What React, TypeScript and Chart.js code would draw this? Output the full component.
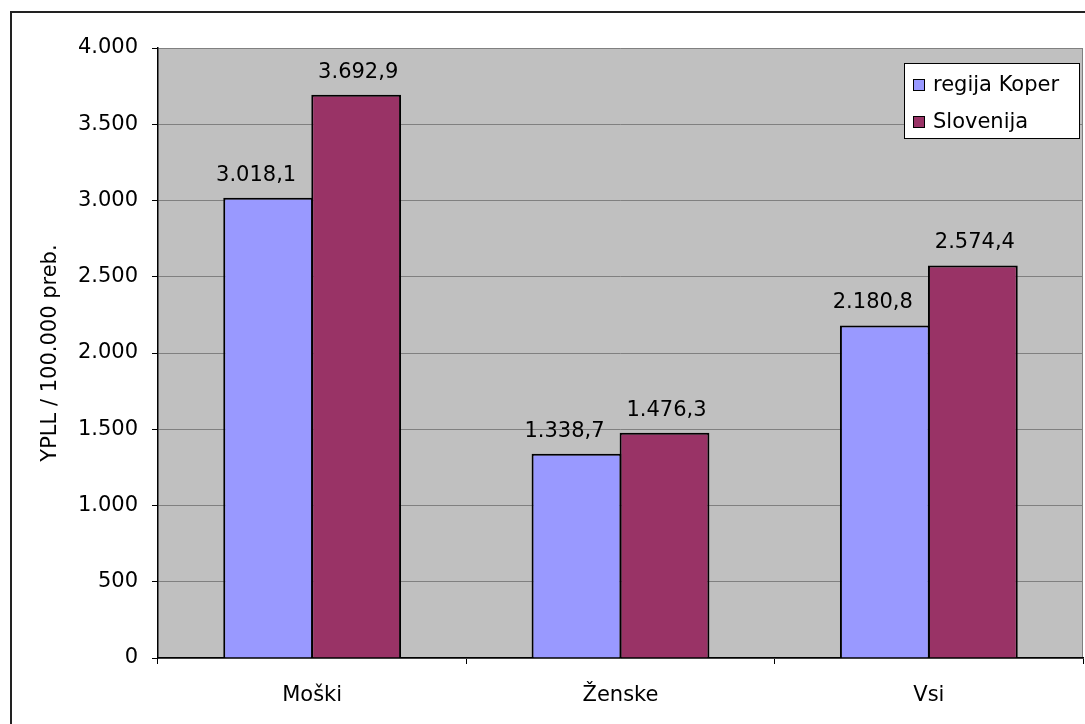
import React, { useEffect, useRef } from "react";
import { Chart, registerables } from "chart.js";

Chart.register(...registerables);

const categories = ["Moški", "Ženske", "Vsi"];
const seriesNames = ["regija Koper", "Slovenija"];
const koperValues = [3018.1, 1338.7, 2180.8];
const sloValues = [3692.9, 1476.3, 2574.4];
const yTicksMax = 4000;
const yTicksStep = 500;
const yTitle = "YPLL / 100.000 preb.";

const FONT = "'DejaVu Sans', Verdana, sans-serif";
const FS = 21;

function fmtThousands(intStr: string): string {
  return intStr.replace(/\B(?=(\d{3})+(?!\d))/g, ".");
}
function fmtVal(v: number): string {
  const [i, d] = v.toFixed(1).split(".");
  return fmtThousands(i) + "," + d;
}
function fmtTick(v: number): string {
  return fmtThousands(String(Math.round(v)));
}

const decorPlugin = {
  id: "decor",
  beforeDraw(chart: any) {
    const { ctx, chartArea } = chart;
    ctx.save();
    ctx.fillStyle = "#ffffff";
    ctx.fillRect(0, 0, chart.width, chart.height);
    ctx.fillStyle = "#C0C0C0";
    ctx.fillRect(chartArea.left, chartArea.top, chartArea.right - chartArea.left, chartArea.bottom - chartArea.top);
    ctx.strokeStyle = "#808080";
    ctx.lineWidth = 1;
    ctx.beginPath();
    ctx.moveTo(chartArea.right - 0.5, chartArea.top);
    ctx.lineTo(chartArea.right - 0.5, chartArea.bottom);
    ctx.stroke();
    ctx.restore();
  },
  afterDatasetsDraw(chart: any) {
    const { ctx } = chart;
    ctx.save();
    ctx.font = `${FS}px ${FONT}`;
    ctx.fillStyle = "#000";
    ctx.textAlign = "center";
    ctx.textBaseline = "bottom";
    chart.data.datasets.forEach((ds: any, di: number) => {
      const meta = chart.getDatasetMeta(di);
      meta.data.forEach((el: any, i: number) => {
        const dx = di === 0 ? -12 : 2;
        ctx.fillText(fmtVal(ds.data[i]), el.x + dx, el.y - 12);
      });
    });
    ctx.restore();
  },
  afterDraw(chart: any) {
    const { ctx, chartArea } = chart;
    ctx.save();
    // y-axis title
    ctx.font = `${FS}px ${FONT}`;
    ctx.fillStyle = "#000";
    ctx.translate(51, (chartArea.top + chartArea.bottom) / 2);
    ctx.rotate(-Math.PI / 2);
    ctx.textAlign = "center";
    ctx.textBaseline = "middle";
    ctx.fillText(yTitle, 0, 0);
    ctx.restore();

    // legend
    ctx.save();
    const lx = chartArea.right - 179;
    const ly = chartArea.top + 15;
    const lw = 175;
    const lh = 75;
    ctx.fillStyle = "#fff";
    ctx.fillRect(lx, ly, lw, lh);
    ctx.strokeStyle = "#000";
    ctx.lineWidth = 1;
    ctx.strokeRect(lx + 0.5, ly + 0.5, lw, lh);
    ctx.font = `${FS}px ${FONT}`;
    ctx.textBaseline = "middle";
    ctx.textAlign = "left";
    chart.data.datasets.forEach((ds: any, i: number) => {
      const cy = ly + 22 + i * 37;
      ctx.fillStyle = ds.backgroundColor;
      ctx.fillRect(lx + 9, cy - 6, 12, 12);
      ctx.strokeStyle = "#000";
      ctx.lineWidth = 1;
      ctx.strokeRect(lx + 9.5, cy - 5.5, 11, 11);
      ctx.fillStyle = "#000";
      ctx.fillText(ds.label, lx + 29, cy + 1);
    });
    ctx.restore();

    // outer border
    ctx.save();
    ctx.strokeStyle = "#222";
    ctx.lineWidth = 2;
    ctx.strokeRect(11, 12, chart.width + 20, chart.height + 20);
    ctx.restore();
  },
};

export default function App() {
  const ref = useRef<HTMLCanvasElement | null>(null);
  useEffect(() => {
    if (!ref.current) return;
    const chart = new Chart(ref.current, {
      type: "bar",
      data: {
        labels: categories,
        datasets: [
          {
            label: seriesNames[0],
            data: koperValues,
            backgroundColor: "#9999FF",
            borderColor: "#000000",
            borderWidth: 2,
            inflateAmount: 0,
            categoryPercentage: 0.571,
            barPercentage: 1.02,
          },
          {
            label: seriesNames[1],
            data: sloValues,
            backgroundColor: "#993366",
            borderColor: "#000000",
            borderWidth: 2,
            inflateAmount: 0,
            categoryPercentage: 0.571,
            barPercentage: 1.02,
          },
        ],
      },
      options: {
        responsive: false,
        animation: false,
        events: [],
        layout: { padding: { top: 48, right: 2, left: 0, bottom: 0 } },
        plugins: { legend: { display: false }, tooltip: { enabled: false }, title: { display: false } },
        scales: {
          x: {
            offset: true,
            grid: {
              offset: true,
              drawOnChartArea: false,
              drawTicks: true,
              tickLength: 6,
              tickColor: "#000",
              color: "#000",
            },
            border: { color: "#000", width: 1.5 },
            ticks: { color: "#000", font: { family: FONT, size: FS }, padding: 19, maxRotation: 0 },
            afterFit: (s: any) => {
              s.height = 66;
            },
          },
          y: {
            min: 0,
            max: yTicksMax,
            ticks: {
              stepSize: yTicksStep,
              color: "#000",
              font: { family: FONT, size: FS },
              padding: 14,
              callback: (v: any) => fmtTick(Number(v)),
            },
            grid: { color: "#808080", tickColor: "#000", tickLength: 6, lineWidth: 1 },
            border: { color: "#000", width: 1.5 },
            afterFit: (s: any) => {
              s.width = 158;
            },
          },
        },
      },
      plugins: [decorPlugin],
    });
    return () => chart.destroy();
  }, []);
  return (
    <div style={{ position: "absolute", left: 0, top: 0, width: 1085, height: 724 }}>
      <canvas ref={ref} width={1085} height={724} style={{ display: "block" }} />
    </div>
  );
}
